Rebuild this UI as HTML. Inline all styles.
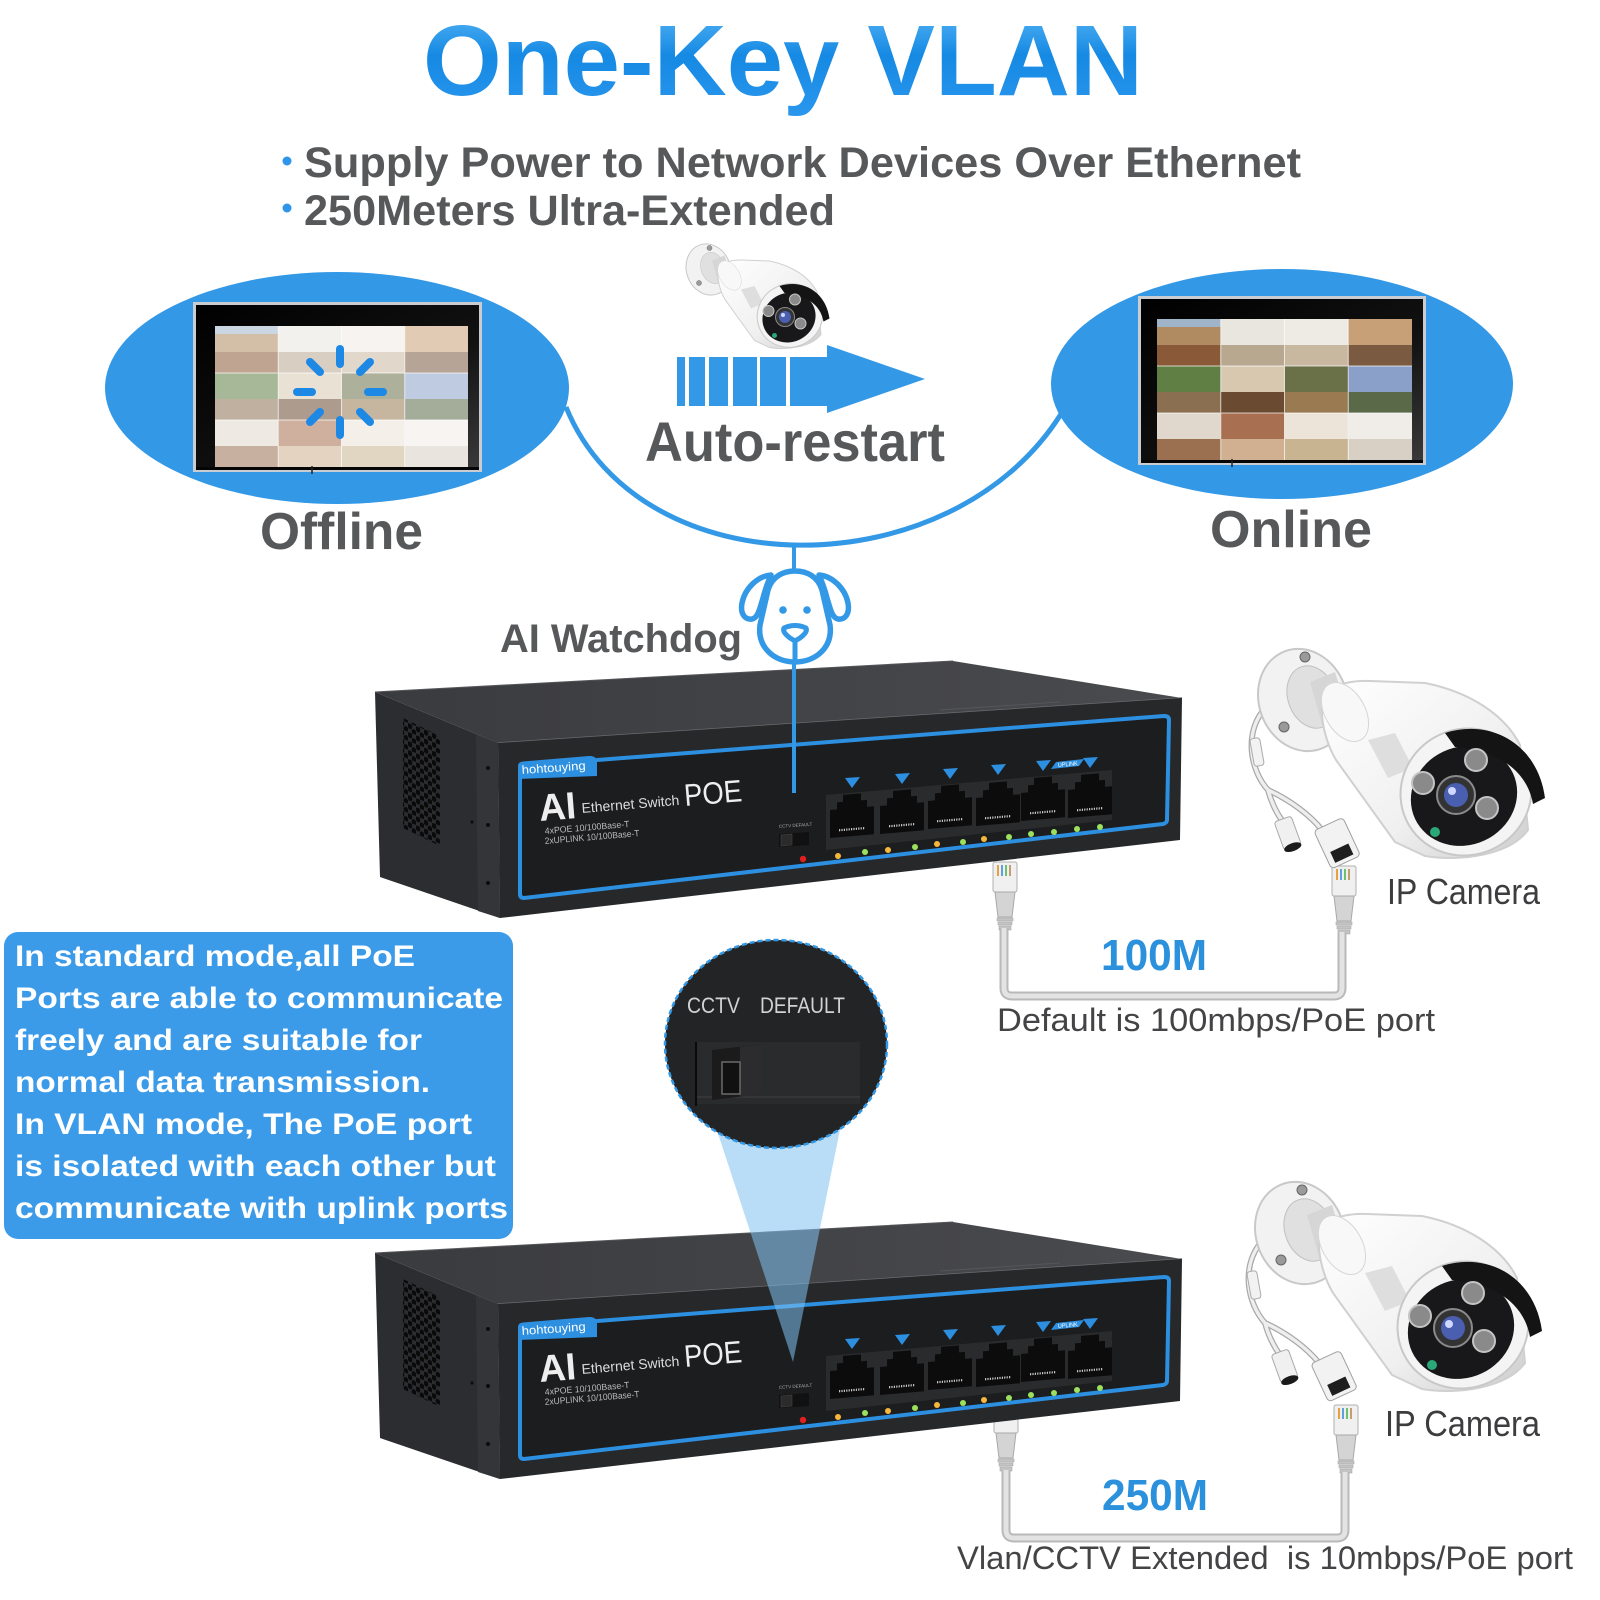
<!DOCTYPE html>
<html><head><meta charset="utf-8"><style>
html,body{margin:0;padding:0;background:#fff;}
svg{display:block;}
text{font-family:"Liberation Sans",Arial,sans-serif;}
</style></head><body>
<svg width="1600" height="1600" viewBox="0 0 1600 1600" xmlns="http://www.w3.org/2000/svg">
<defs>
  <linearGradient id="tg" x1="0" y1="0" x2="0" y2="1">
    <stop offset="0" stop-color="#5cb8f7"/><stop offset="0.45" stop-color="#1589e3"/><stop offset="1" stop-color="#2b97ee"/>
  </linearGradient>
  <linearGradient id="bodyGrad" x1="0" y1="0" x2="1" y2="1">
    <stop offset="0" stop-color="#ffffff"/><stop offset="0.6" stop-color="#f0f0f0"/><stop offset="1" stop-color="#cdcdcd"/>
  </linearGradient>
  <linearGradient id="topFace" x1="0" y1="0" x2="1" y2="0">
    <stop offset="0" stop-color="#3a3b3e"/><stop offset="1" stop-color="#4a4b4e"/>
  </linearGradient>
  <linearGradient id="gloss" x1="0" y1="0" x2="1" y2="1">
    <stop offset="0" stop-color="#000"/><stop offset="0.6" stop-color="#111"/><stop offset="1" stop-color="#3a3a3a"/>
  </linearGradient>
  <pattern id="vent" width="8" height="9" patternUnits="userSpaceOnUse" patternTransform="skewY(22)">
    <ellipse cx="2" cy="2.5" rx="2.3" ry="3" fill="#0a0a0a"/>
    <ellipse cx="6" cy="7" rx="2.3" ry="3" fill="#0a0a0a"/>
  </pattern>
  <clipPath id="ventClip"><polygon points="403,718 440,736 440,846 403,828"/></clipPath>

  <g id="grid">
    <rect x="0" y="0" width="63.5" height="47" fill="#b08a60"/><rect x="0" y="26" width="63.5" height="21" fill="#8a5a38"/><rect x="0" y="0" width="63.5" height="8" fill="#9fb4c8"/>
    <rect x="63.5" y="0" width="63.5" height="47" fill="#e9e6e0"/><rect x="63.5" y="26" width="63.5" height="21" fill="#b8a890"/>
    <rect x="127" y="0" width="63.5" height="47" fill="#eeeae4"/><rect x="127" y="26" width="63.5" height="21" fill="#c8b8a0"/>
    <rect x="190.5" y="0" width="63.5" height="47" fill="#c8a078"/><rect x="190.5" y="26" width="63.5" height="21" fill="#7a5a40"/>
    <rect x="0" y="47" width="63.5" height="47" fill="#5f7f45"/><rect x="0" y="73" width="63.5" height="21" fill="#8a7050"/>
    <rect x="63.5" y="47" width="63.5" height="47" fill="#d8c8b0"/><rect x="63.5" y="73" width="63.5" height="21" fill="#6a4a30"/>
    <rect x="127" y="47" width="63.5" height="47" fill="#6a7048"/><rect x="127" y="73" width="63.5" height="21" fill="#9a7a50"/>
    <rect x="190.5" y="47" width="63.5" height="47" fill="#8aa0c8"/><rect x="190.5" y="73" width="63.5" height="21" fill="#5a6a48"/>
    <rect x="0" y="94" width="63.5" height="47" fill="#e0d8cc"/><rect x="0" y="120" width="63.5" height="21" fill="#9a7050"/>
    <rect x="63.5" y="94" width="63.5" height="47" fill="#a87050"/><rect x="63.5" y="120" width="63.5" height="21" fill="#d0b090"/>
    <rect x="127" y="94" width="63.5" height="47" fill="#ece4d8"/><rect x="127" y="120" width="63.5" height="21" fill="#c8b490"/>
    <rect x="190.5" y="94" width="63.5" height="47" fill="#f0ece8"/><rect x="190.5" y="120" width="63.5" height="21" fill="#d8d0c4"/>
    <g stroke="#fff" stroke-width="1" opacity="0.7">
      <line x1="63.5" y1="0" x2="63.5" y2="141"/><line x1="127" y1="0" x2="127" y2="141"/><line x1="190.5" y1="0" x2="190.5" y2="141"/>
      <line x1="0" y1="47" x2="254" y2="47"/><line x1="0" y1="94" x2="254" y2="94"/>
    </g>
  </g>

  <g id="cam">
    <ellipse cx="1303" cy="700" rx="44" ry="52" transform="rotate(-20 1303 700)" fill="#f2f2f2" stroke="#c8c8c8" stroke-width="2"/>
    <ellipse cx="1312" cy="697" rx="24" ry="32" transform="rotate(-20 1312 697)" fill="#e0e0e0" stroke="#c0c0c0"/>
    <circle cx="1305" cy="657" r="5" fill="#9a9a9a" stroke="#666"/>
    <circle cx="1284" cy="727" r="5" fill="#9a9a9a" stroke="#666"/>
    <polygon points="1310,682 1335,672 1348,715 1322,724" fill="#d6d6d6"/>
    <path d="M1322,712 C1320,690 1340,680 1370,681 L1425,683 C1470,692 1505,715 1520,745 L1528,830 C1510,855 1460,862 1425,856 L1395,842 L1336,760 C1327,745 1322,725 1322,712 Z" fill="url(#bodyGrad)" stroke="#d0d0d0" stroke-width="2"/>
    <ellipse cx="1345" cy="712" rx="20" ry="32" transform="rotate(-30 1345 712)" fill="#f8f8f8" stroke="#d6d6d6"/>
    <polygon points="1368,740 1395,733 1413,768 1388,778" fill="#dedede"/>
    <ellipse cx="1466" cy="792" rx="66" ry="63" transform="rotate(-25 1466 792)" fill="#f4f4f4" stroke="#c8c8c8" stroke-width="2"/>
    <ellipse cx="1464" cy="796" rx="54" ry="49" transform="rotate(-25 1464 796)" fill="#18181a"/>
    <path d="M1445,733 C1492,718 1538,745 1545,798 L1533,804 C1527,770 1497,750 1455,747 Z" fill="#141414"/>
    <circle cx="1476" cy="760" r="11" fill="#8a8a8a" stroke="#c4c4c4" stroke-width="2"/>
    <circle cx="1423" cy="783" r="11" fill="#8a8a8a" stroke="#c4c4c4" stroke-width="2"/>
    <circle cx="1487" cy="808" r="11" fill="#8a8a8a" stroke="#c4c4c4" stroke-width="2"/>
    <circle cx="1456" cy="795" r="19" fill="#333" stroke="#8a8a8a" stroke-width="2"/>
    <circle cx="1456" cy="795" r="12" fill="#4a5fb0"/>
    <circle cx="1452" cy="791" r="4" fill="#cfd8ff"/>
    <circle cx="1435" cy="832" r="5" fill="#2aa878"/>
  </g>

  <g id="cab">
    <path d="M1262,712 C1245,735 1250,770 1268,790 M1268,790 C1272,805 1278,815 1283,822 M1268,790 C1290,800 1310,815 1322,830" fill="none" stroke="#a9a9a9" stroke-width="6"/>
    <path d="M1262,712 C1245,735 1250,770 1268,790 M1268,790 C1272,805 1278,815 1283,822 M1268,790 C1290,800 1310,815 1322,830" fill="none" stroke="#eeeeee" stroke-width="3.5"/>
    <rect x="1252" y="738" width="10" height="28" rx="3" transform="rotate(-10 1257 752)" fill="#f2f2f2" stroke="#aaa"/>
    <g transform="rotate(-20 1288 834)"><rect x="1279" y="818" width="18" height="30" rx="3" fill="#f0f0f0" stroke="#aaa"/><ellipse cx="1288" cy="848" rx="9" ry="4" fill="#1a1a1a"/></g>
    <g transform="rotate(-25 1338 845)"><rect x="1322" y="822" width="32" height="42" rx="4" fill="#f2f2f2" stroke="#a0a0a0"/><rect x="1328" y="848" width="20" height="12" fill="#1e1e1e"/></g>
  </g>

  <g id="port">
    <path d="M0,16 H7 V9 H13 V2 H31 V9 H37 V16 H44 V44 H0 Z" fill="#0c0c0d"/>
    <line x1="9" y1="37" x2="35" y2="37" stroke="#c8c8c8" stroke-width="2.2" stroke-dasharray="1.2 1.2"/>
  </g>

  <g id="plug">
    <rect x="2" y="0" width="24" height="30" rx="2" fill="#f0f0f0" stroke="#b0b0b0"/>
    <line x1="7" y1="3" x2="7" y2="14" stroke="#e8a040" stroke-width="2"/>
    <line x1="11" y1="3" x2="11" y2="14" stroke="#60a0e0" stroke-width="2"/>
    <line x1="15" y1="3" x2="15" y2="14" stroke="#70c070" stroke-width="2"/>
    <line x1="19" y1="3" x2="19" y2="14" stroke="#c0a070" stroke-width="2"/>
    <path d="M4,30 H24 L21,55 H7 Z" fill="#d4d4d4" stroke="#a8a8a8"/>
    <rect x="6" y="56" width="16" height="3" fill="#c4c4c4" stroke="#aaa" stroke-width="0.6"/>
    <rect x="7" y="60" width="14" height="3" fill="#c4c4c4" stroke="#aaa" stroke-width="0.6"/>
    <rect x="8" y="64" width="12" height="4" fill="#c4c4c4" stroke="#aaa" stroke-width="0.6"/>
  </g>

  <g id="sw">
    <polygon points="375,692 498,743 500,918 380,877" fill="#2c2d30"/>
    <polygon points="476,734 498,743 500,918 478,911" fill="#343538"/>
    <g clip-path="url(#ventClip)"><rect x="395" y="705" width="55" height="150" fill="url(#vent)"/></g>
    <circle cx="488" cy="768" r="2" fill="#0d0d0d"/><circle cx="488" cy="825" r="2" fill="#0d0d0d"/><circle cx="488" cy="883" r="2" fill="#0d0d0d"/><circle cx="472" cy="822" r="1.6" fill="#0d0d0d"/>
    <polygon points="375,692 953,661 1182,698 498,743" fill="url(#topFace)"/>
    <line x1="375" y1="692" x2="953" y2="661" stroke="#555659" stroke-width="1"/>
    <line x1="940" y1="710" x2="1060" y2="702" stroke="#55565a" stroke-width="1"/>
    <line x1="498" y1="743" x2="1182" y2="698" stroke="#6a6b6e" stroke-width="1.5"/>
    <polygon points="498,743 1182,698 1180,840 500,918" fill="#27282a"/>
    <path d="M520,766 L1164,716 Q1169,716 1169,720 L1167,820 Q1167,823 1163,824 L524,898 Q520,898 520,894 Z" fill="#1c1d1f" stroke="#2d8fe0" stroke-width="4" stroke-linejoin="round"/>
    <path d="M518,779 L518,766 Q518,762 523,761.5 L589,756 Q597,755.5 597,763 L597,776 Z" fill="#2d8fe0"/>
    <text transform="translate(522,774) rotate(-4)" font-size="12" fill="#ffffff" textLength="64" lengthAdjust="spacingAndGlyphs">hohtouying</text>
    <text transform="translate(540,821) rotate(-4.5)" font-size="38" font-weight="bold" fill="#eeeeee" textLength="37" lengthAdjust="spacingAndGlyphs">AI</text>
    <text transform="translate(582,813) rotate(-4.8)" font-size="14" fill="#dddddd" textLength="98" lengthAdjust="spacingAndGlyphs">Ethernet Switch</text>
    <text transform="translate(685,806) rotate(-4.8)" font-size="31" fill="#eeeeee" textLength="58" lengthAdjust="spacingAndGlyphs">POE</text>
    <text transform="translate(545,834) rotate(-4.8)" font-size="9" fill="#bbbbbb" textLength="85" lengthAdjust="spacingAndGlyphs">4xPOE 10/100Base-T</text>
    <text transform="translate(545,844) rotate(-4.8)" font-size="9" fill="#bbbbbb" textLength="95" lengthAdjust="spacingAndGlyphs">2xUPLINK 10/100Base-T</text>
    <polygon points="826,795 1112,770 1112,820 826,850" fill="#2a2b2d"/>
    <use href="#port" transform="translate(830,794) skewY(-4.8)"/>
    <use href="#port" transform="translate(880,790) skewY(-4.8)"/>
    <use href="#port" transform="translate(928,785) skewY(-4.8)"/>
    <use href="#port" transform="translate(976,782) skewY(-4.8)"/>
    <use href="#port" transform="translate(1021,777) skewY(-4.8)"/>
    <use href="#port" transform="translate(1068,774) skewY(-4.8)"/>
    <g fill="#2d8fe0">
      <polygon points="845,778 860,777 852,788"/>
      <polygon points="895,774 910,773 902,784"/>
      <polygon points="943,769 958,768 950,779"/>
      <polygon points="991,765 1006,764 998,775"/>
      <polygon points="1036,761 1051,760 1043,771"/>
      <polygon points="1083,758 1098,757 1090,768"/>
      <polygon points="1051,769 1079,766 1084,759 1056,762"/>
    </g>
    <text transform="translate(1058,767) rotate(-5)" font-size="6" fill="#fff" textLength="20" lengthAdjust="spacingAndGlyphs">UPLINK</text>
    <g>
      <circle cx="838" cy="856" r="3" fill="#f6b73c"/><circle cx="865" cy="852" r="3" fill="#9be15d"/>
      <circle cx="888" cy="850" r="3" fill="#f6b73c"/><circle cx="915" cy="847" r="3" fill="#9be15d"/>
      <circle cx="937" cy="844" r="3" fill="#f6b73c"/><circle cx="963" cy="842" r="3" fill="#9be15d"/>
      <circle cx="984" cy="839" r="3" fill="#f6b73c"/><circle cx="1009" cy="837" r="3" fill="#9be15d"/>
      <circle cx="1031" cy="834" r="3" fill="#9be15d"/><circle cx="1054" cy="832" r="3" fill="#9be15d"/>
      <circle cx="1077" cy="829" r="3" fill="#9be15d"/><circle cx="1100" cy="827" r="3" fill="#9be15d"/>
      <circle cx="803" cy="859" r="3.2" fill="#e02020"/>
    </g>
    <text transform="translate(779,828) rotate(-4)" font-size="4.5" fill="#aaaaaa">CCTV DEFAULT</text>
    <polygon points="779,834 809,832 809,845 779,847" fill="#111112"/>
    <polygon points="781,835 792,834 792,845 781,846" fill="#2b2b2c" stroke="#444" stroke-width="0.6"/>
  </g>
</defs>

<text x="423" y="95" font-size="100" font-weight="bold" fill="url(#tg)" textLength="720" lengthAdjust="spacingAndGlyphs">One-Key VLAN</text>

<circle cx="287" cy="161" r="4.5" fill="#2f95e8"/>
<circle cx="287" cy="208" r="4.5" fill="#2f95e8"/>
<text x="304" y="177" font-size="43" font-weight="bold" fill="#57585a" textLength="997" lengthAdjust="spacingAndGlyphs">Supply Power to Network Devices Over Ethernet</text>
<text x="304" y="225" font-size="43" font-weight="bold" fill="#57585a" textLength="531" lengthAdjust="spacingAndGlyphs">250Meters Ultra-Extended</text>

<path d="M566,407 C640,590 950,590 1061,414" fill="none" stroke="#3399e6" stroke-width="5"/>

<ellipse cx="337" cy="388" rx="232" ry="116" fill="#3398e6"/>
<rect x="193" y="302" width="289" height="170" fill="#c9ccd0"/>
<rect x="196" y="305" width="283" height="164" fill="url(#gloss)"/>
<use href="#grid" transform="translate(215,326) scale(0.996,1)"/>
<rect x="215" y="326" width="253" height="141" fill="#ffffff" opacity="0.45"/>
<rect x="196" y="467" width="283" height="3" fill="#050505"/>
<line x1="312" y1="466" x2="312" y2="474" stroke="#222" stroke-width="1.5"/>
<g stroke="#1e88e5" stroke-width="8" stroke-linecap="round">
  <line x1="340" y1="364" x2="340" y2="349"/>
  <line x1="340" y1="420" x2="340" y2="435"/>
  <line x1="312" y1="392" x2="297" y2="392"/>
  <line x1="368" y1="392" x2="383" y2="392"/>
  <line x1="320" y1="372" x2="310" y2="362"/>
  <line x1="360" y1="372" x2="370" y2="362"/>
  <line x1="320" y1="412" x2="310" y2="422"/>
  <line x1="360" y1="412" x2="370" y2="422"/>
</g>

<ellipse cx="1282" cy="384" rx="231" ry="115" fill="#3398e6"/>
<rect x="1138" y="296" width="288" height="169" fill="#c9ccd0"/>
<rect x="1141" y="299" width="282" height="163" fill="url(#gloss)"/>
<use href="#grid" transform="translate(1157,319) scale(1.004,1)"/>
<rect x="1141" y="460" width="282" height="3" fill="#050505"/>
<line x1="1232" y1="459" x2="1232" y2="467" stroke="#222" stroke-width="1.5"/>

<use href="#cam" transform="translate(57,-80.5) scale(0.5)"/>
<g fill="#3399e6">
  <rect x="677" y="357" width="8" height="49"/>
  <rect x="689" y="357" width="16" height="49"/>
  <rect x="709" y="357" width="19" height="49"/>
  <rect x="733" y="357" width="24" height="49"/>
  <rect x="760" y="357" width="26" height="49"/>
  <rect x="790" y="357" width="38" height="49"/>
  <polygon points="827,345 925,379 827,413"/>
</g>
<text x="645" y="461" font-size="56" font-weight="bold" fill="#57585a" textLength="300" lengthAdjust="spacingAndGlyphs">Auto-restart</text>
<text x="260" y="549" font-size="52" font-weight="bold" fill="#57585a" textLength="163" lengthAdjust="spacingAndGlyphs">Offline</text>
<text x="1210" y="547" font-size="52" font-weight="bold" fill="#57585a" textLength="162" lengthAdjust="spacingAndGlyphs">Online</text>

<text x="500" y="652" font-size="40" font-weight="bold" fill="#57585a" textLength="242" lengthAdjust="spacingAndGlyphs">AI Watchdog</text>
<line x1="794" y1="543" x2="794" y2="572" stroke="#3399e6" stroke-width="4"/>
<g fill="#ffffff" stroke="#3399e6" stroke-width="5.5" stroke-linejoin="round">
  <path d="M768,590 C772,576 784,571 795,571 C806,571 818,576 822,590 L830,625 C833,648 815,662 795,662 C775,662 757,648 760,625 Z"/>
  <path d="M771,575 C758,576 745,588 742,603 C740,614 745,620 752,619 C758,618 760,608 763,598 C765,590 768,582 771,575 Z"/>
  <path d="M819,575 C832,576 845,588 848,603 C850,614 845,620 838,619 C832,618 830,608 827,598 C825,590 822,582 819,575 Z"/>
  <path d="M784,628 Q795,623 806,628 Q808,632 800,638 L795,641 L790,638 Q782,632 784,628 Z" stroke-width="5"/>
</g>
<circle cx="783" cy="610" r="3.8" fill="#3399e6"/>
<circle cx="807" cy="610" r="3.8" fill="#3399e6"/>
<line x1="795" y1="641" x2="795" y2="662" stroke="#3399e6" stroke-width="5"/>

<use href="#plug" transform="translate(991,862)"/>
<use href="#plug" transform="translate(1330,866)"/>
<use href="#plug" transform="translate(992,1403)"/>
<use href="#plug" transform="translate(1332,1405)"/>

<use href="#sw"/>
<line x1="794" y1="662" x2="794" y2="793" stroke="#3399e6" stroke-width="4"/>

<use href="#sw" transform="translate(0,561)"/>

<path d="M1004,928 V988 Q1004,996 1012,996 H1334 Q1342,996 1342,988 V932" fill="none" stroke="#b9b9b9" stroke-width="9"/>
<path d="M1004,928 V988 Q1004,996 1012,996 H1334 Q1342,996 1342,988 V932" fill="none" stroke="#e3e3e3" stroke-width="5"/>
<path d="M1006,1470 V1530 Q1006,1538 1014,1538 H1337 Q1345,1538 1345,1530 V1472" fill="none" stroke="#b9b9b9" stroke-width="9"/>
<path d="M1006,1470 V1530 Q1006,1538 1014,1538 H1337 Q1345,1538 1345,1530 V1472" fill="none" stroke="#e3e3e3" stroke-width="5"/>

<use href="#cab"/>
<use href="#cam"/>
<g transform="translate(-3,533)"><use href="#cab"/><use href="#cam"/></g>

<text x="1387" y="904" font-size="36" fill="#3d3d3f" textLength="153" lengthAdjust="spacingAndGlyphs">IP Camera</text>
<text x="1385" y="1436" font-size="36" fill="#3d3d3f" textLength="155" lengthAdjust="spacingAndGlyphs">IP Camera</text>
<text x="1101" y="970" font-size="44" font-weight="bold" fill="#2b91dc" textLength="106" lengthAdjust="spacingAndGlyphs">100M</text>
<text x="1102" y="1510" font-size="44" font-weight="bold" fill="#2b91dc" textLength="106" lengthAdjust="spacingAndGlyphs">250M</text>
<text x="997" y="1031" font-size="32" fill="#444446" textLength="438" lengthAdjust="spacingAndGlyphs">Default is 100mbps/PoE port</text>
<text x="957" y="1569" font-size="32" fill="#444446" textLength="616" lengthAdjust="spacingAndGlyphs" style="white-space:pre">Vlan/CCTV Extended  is 10mbps/PoE port</text>

<rect x="4" y="932" width="509" height="307" rx="14" fill="#3b9be8"/>
<g font-size="30" font-weight="bold" fill="#ffffff">
  <text x="15" y="966" textLength="400" lengthAdjust="spacingAndGlyphs">In standard mode,all PoE</text>
  <text x="15" y="1008" textLength="488" lengthAdjust="spacingAndGlyphs">Ports are able to communicate</text>
  <text x="15" y="1050" textLength="407" lengthAdjust="spacingAndGlyphs">freely and are suitable for</text>
  <text x="15" y="1092" textLength="415" lengthAdjust="spacingAndGlyphs">normal data transmission.</text>
  <text x="15" y="1134" textLength="457" lengthAdjust="spacingAndGlyphs">In VLAN mode, The PoE port</text>
  <text x="15" y="1176" textLength="481" lengthAdjust="spacingAndGlyphs">is isolated with each other but</text>
  <text x="15" y="1218" textLength="493" lengthAdjust="spacingAndGlyphs">communicate with uplink ports</text>
</g>

<polygon points="707,1100 846,1100 793,1362" fill="#7fc1f0" opacity="0.55"/>
<ellipse cx="776" cy="1044" rx="111" ry="104" fill="#232426" stroke="#3399e6" stroke-width="2.5" stroke-dasharray="5 3"/>
<text x="687" y="1013" font-size="22" fill="#d2d2d2" textLength="53" lengthAdjust="spacingAndGlyphs">CCTV</text>
<text x="760" y="1013" font-size="22" fill="#d2d2d2" textLength="85" lengthAdjust="spacingAndGlyphs">DEFAULT</text>
<rect x="695" y="1042" width="165" height="62" fill="#2a2b2d"/>
<line x1="696" y1="1042" x2="696" y2="1106" stroke="#0a0a0a" stroke-width="2"/>
<line x1="697" y1="1097" x2="860" y2="1097" stroke="#3a3b3d" stroke-width="1.5"/>
<polygon points="712,1050 762,1044 762,1094 712,1100" fill="#1b1b1c"/>
<polygon points="740,1047 762,1044 762,1094 740,1097" fill="#2c2c2e"/>
<rect x="722" y="1062" width="18" height="32" fill="#111" stroke="#6a6a6a" stroke-width="1.5"/>
</svg>
</body></html>
